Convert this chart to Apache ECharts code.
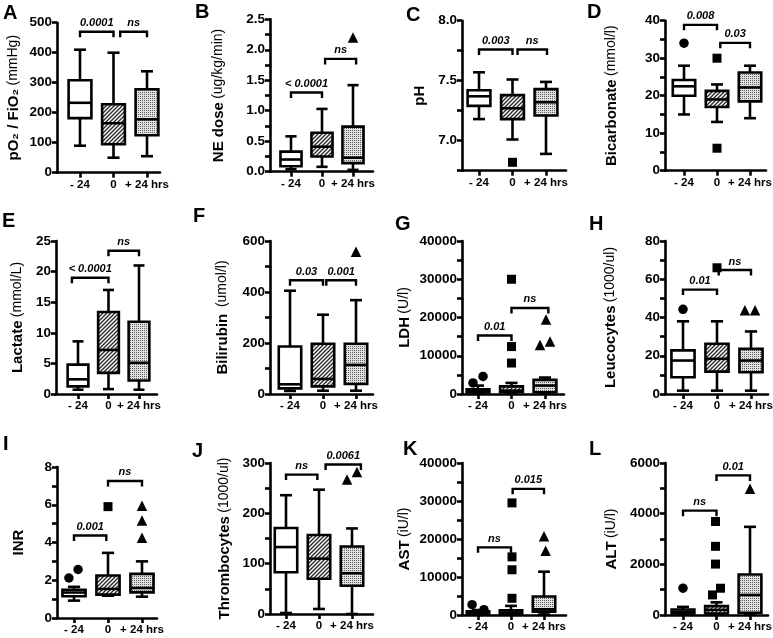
<!DOCTYPE html>
<html><head><meta charset="utf-8">
<script src="https://cdn.jsdelivr.net/npm/echarts@6/dist/echarts.min.js"></script>
<style>html,body{margin:0;padding:0;background:#fff}#c{width:773px;height:638px}</style>
</head><body><div id="c"></div>
<script>
// ---------- DATA ----------
const categories = ['- 24', '0', '+ 24 hrs'];
// each box: [min, q1, median, q3, max] for -24, 0, +24 hrs
// outliers: [category position, value]; significance: [from, to, level, label]
const A_box = [[90,182,233,308,410],[50,95,165,228,400],[55,125,178,278,338]];
const A_out = [];
const A_sig = [[0,1,470,'0.0001'],[1.2,2,470,'ns']];

const B_box = [[0.04,0.09,0.20,0.33,0.58],[0.08,0.25,0.41,0.64,1.03],[0.03,0.14,0.23,0.74,1.42]];
const B_out = [[2,2.2]];
const B_sig = [[0,1,1.3,'< 0.0001'],[1.1,2.1,1.85,'ns']];

const C_box = [[7.18,7.29,7.37,7.42,7.57],[7.01,7.18,7.27,7.38,7.51],[6.89,7.21,7.32,7.43,7.49]];
const C_out = [[1,6.82]];
const C_sig = [[0,1,7.76,'0.003'],[1.15,2.03,7.76,'ns']];

const D_box = [[15,20,22.5,24.2,28],[13,17,19,21.3,23],[14,18.5,22.2,26.2,28]];
const D_out = [[0,34],[1,30],[1,6]];
const D_sig = [[0,1,38.9,'0.008'],[1.1,2,34.1,'0.03']];

const E_box = [[0.7,1.25,2.4,4.8,8.6],[0.8,3.45,7.2,13.4,17],[0.7,2.2,5.1,11.8,21]];
const E_out = [];
const E_sig = [[-0.2,1,19,'< 0.0001'],[1,2,23.4,'ns']];

const F_box = [[12,22,38,186,405],[13,30,59,197,311],[13,39,114,197,368]];
const F_out = [[2,558]];
const F_sig = [[0,1,446,'0.03'],[1.1,2,446,'0.001']];

const G_box = [[150,400,700,1200,2200],[100,440,870,2000,2900],[150,440,2200,3700,4300]];
const G_out = [[-0.15,2900],[0.15,4600],[1,30000],[1,12400],[1,8100],[2.03,19500],[1.85,12800],[2.15,13700]];
const G_sig = [[0,1,15300,'0.01'],[1,2.1,22500,'ns']];

const H_box = [[1.75,8.75,17.5,22.8,38],[1.75,11.7,18.4,26.3,38],[1.75,11.4,17.5,23.6,32.7]];
const H_out = [[0,44.3],[1,66],[1.82,43.8],[2.12,43.8]];
const H_sig = [[0,1,54.6,'0.01'],[1.05,2,64.8,'ns']];

const I_box = [[0.92,1.15,1.35,1.5,1.65],[1.18,1.24,1.54,2.25,3.45],[1.13,1.36,1.59,2.34,3.0]];
const I_out = [[-0.15,2.12],[0.12,2.57],[1,5.9],[2,5.95],[2,5.17],[2,4.25]];
const I_sig = [[0,0.95,4.37,'0.001'],[1,2,7.26,'ns']];

const J_box = [[2,83,133,171,236],[10,70,110,157,247],[0,56,81,134,170]];
const J_out = [[1.85,267],[2.15,282]];
const J_sig = [[0,0.95,277,'ns'],[1.2,2.27,297,'0.0061']];

const K_box = [[100,300,600,1000,1300],[100,350,600,1230,2400],[150,880,1500,4850,11400]];
const K_out = [[-0.18,2730],[0.18,1400],[1.03,29500],[1.03,15300],[1.03,11900],[1.03,4400],[2,20700],[2.05,16900]];
const K_sig = [[0,1,17800,'ns'],[1.05,2,33200,'0.015']];

const L_box = [[25,65,130,220,320],[20,60,200,350,500],[25,90,790,1600,3480]];
const L_out = [[0,1057],[0.97,3690],[0.97,2710],[0.97,2010],[1.12,1057],[0.88,793],[2,4980]];
const L_sig = [[0,1,4120,'ns'],[1,2,5510,'0.01']];

// axis settings (ranges / tick labels)
const axisRanges = {
  A:[0,500,100], B:[0,2.5,0.5], C:[6.75,8.0,0.25], D:[0,40,10], E:[0,25,5], F:[0,600,200],
  G:[0,40000,10000], H:[0,80,20], I:[0,8,2], J:[0,300,100], K:[0,40000,10000], L:[0,6000,2000]
};
const titles = {
  A:'{b|pO₂ / FiO₂} {n|(mmHg)}', B:'{b|NE dose} {n|(ug/kg/min)}', C:'{b|pH}',
  D:'{b|Bicarbonate} {n|(mmol/l)}', E:'{b|Lactate} {n|(mmol/L)}', F:'{b|Bilirubin}  {n|(umol/l)}',
  G:'{b|LDH} {n|(U/l)}', H:'{b|Leucocytes} {n|(1000/ul)}', I:'{b|INR}',
  J:'{b|Thrombocytes} {n|(1000/ul)}', K:'{b|AST} {n|(iU/l)}', L:'{b|ALT} {n|(iU/l)}'
};

// ---------- LAYOUT (pixels) ----------
const layout = {
  A:{L:57,R:160,c0:80,c2:147,T:22.7,B:172.7,gap:36,minor:false,letter:[3,3]},
  B:{L:270,R:373,c0:291,c2:353,T:19.3,B:171.7,gap:44,minor:true,letter:[195,2]},
  C:{L:462,R:566,c0:479,c2:546,T:20.7,B:170.7,gap:35,minor:false,letter:[406,5]},
  D:{L:665,R:766,c0:684,c2:750,T:20.7,B:170.7,gap:46,minor:true,letter:[587,2]},
  E:{L:56,R:157,c0:78,c2:139,T:241,B:394,gap:31,minor:false,letter:[2,211]},
  F:{L:270,R:373,c0:290,c2:356,T:241,B:394,gap:40,minor:true,letter:[193,206]},
  G:{L:462,R:564,c0:478,c2:545,T:241,B:394,gap:50,minor:true,letter:[395,214]},
  H:{L:665,R:768,c0:683,c2:751,T:241,B:394,gap:47,minor:true,letter:[589,214]},
  I:{L:57,R:157,c0:74,c2:142,T:467,B:618,gap:31,minor:true,letter:[3,434]},
  J:{L:270,R:373,c0:286,c2:352,T:463,B:614,gap:38,minor:true,letter:[192,441]},
  K:{L:462,R:566,c0:478,c2:544,T:463,B:615,gap:50,minor:true,letter:[403,439]},
  L:{L:665,R:768,c0:683,c2:750,T:463,B:615,gap:46,minor:true,letter:[589,439]}
};
const FONT = 'Arial, "Liberation Sans", Helvetica, sans-serif';
const LW = 2.6, BOX_W = 0.68, CAP_W = 0.36;

function makeHatch(){
  const c=document.createElement('canvas'); c.width=4; c.height=4;
  const g=c.getContext('2d'); g.fillStyle='#fff'; g.fillRect(0,0,4,4);
  g.strokeStyle='#2a2a2a'; g.lineWidth=1.4; g.beginPath();
  g.moveTo(-1,5); g.lineTo(5,-1); g.moveTo(-1,1); g.lineTo(1,-1); g.moveTo(3,5); g.lineTo(5,3);
  g.stroke(); return c;
}
function makeDots(){
  const c=document.createElement('canvas'); c.width=2; c.height=2;
  const g=c.getContext('2d'); g.fillStyle='#e0e0e0'; g.fillRect(0,0,2,2);
  g.fillStyle='#5e5e5e'; g.fillRect(0,0,1,1); return c;
}
const fills = ['#ffffff', {image: makeHatch(), repeat:'repeat'}, {image: makeDots(), repeat:'repeat'}];

function boxRender(params, api){
  const x = api.value(0);
  const yv = [1,2,3,4,5].map(i => api.coord([x, api.value(i)])[1]);
  const cx = api.coord([x, 0])[0];
  const hw = (api.coord([x + BOX_W/2, 0])[0] - api.coord([x - BOX_W/2, 0])[0]) / 2;
  const cw = (api.coord([x + CAP_W/2, 0])[0] - api.coord([x - CAP_W/2, 0])[0]) / 2;
  const ls = {stroke:'#000', lineWidth:LW, fill:null};
  return {type:'group', children:[
    {type:'line', shape:{x1:cx,y1:yv[4],x2:cx,y2:yv[0]}, style:ls},
    {type:'line', shape:{x1:cx-cw,y1:yv[4],x2:cx+cw,y2:yv[4]}, style:ls},
    {type:'line', shape:{x1:cx-cw,y1:yv[0],x2:cx+cw,y2:yv[0]}, style:ls},
    {type:'rect', shape:{x:cx-hw,y:yv[3],width:2*hw,height:yv[1]-yv[3]}, style:{fill:fills[Math.round(x)], stroke:'#000', lineWidth:LW}},
    {type:'line', shape:{x1:cx-hw,y1:yv[2],x2:cx+hw,y2:yv[2]}, style:ls}
  ]};
}
function sigRender(sig){
  return function(params, api){
    const s = sig[params.dataIndex];
    const p1 = api.coord([s[0], s[2]]), p2 = api.coord([s[1], s[2]]);
    return {type:'group', children:[
      {type:'polyline', shape:{points:[[p1[0],p1[1]+5.5],[p1[0],p1[1]],[p2[0],p1[1]],[p2[0],p1[1]+5.5]]},
        style:{stroke:'#000', lineWidth:2.4, fill:null}},
      {type:'text', style:{text:s[3], x:(p1[0]+p2[0])/2, y:p1[1]-3,
        align:'center', verticalAlign:'bottom', textAlign:'center', textVerticalAlign:'bottom',
        font:'italic bold 11px ' + FONT, fill:'#000'}}
    ]};
  };
}

const panels = {
  A:[A_box,A_out,A_sig], B:[B_box,B_out,B_sig], C:[C_box,C_out,C_sig], D:[D_box,D_out,D_sig],
  E:[E_box,E_out,E_sig], F:[F_box,F_out,F_sig], G:[G_box,G_out,G_sig], H:[H_box,H_out,H_sig],
  I:[I_box,I_out,I_sig], J:[J_box,J_out,J_sig], K:[K_box,K_out,K_sig], L:[L_box,L_out,L_sig]
};

const grid=[], xAxis=[], yAxis=[], series=[], graphic=[];
Object.keys(panels).forEach((key, idx) => {
  const [box, out, sig] = panels[key];
  const lay = layout[key];
  const [ymin, ymax, step] = axisRanges[key];
  const s = (lay.c2 - lay.c0) / 2;
  grid.push({left:lay.L, top:lay.T, width:lay.R-lay.L, height:lay.B-lay.T, containLabel:false, outerBoundsMode:'none'});
  xAxis.push({
    type:'value', gridIndex:idx, min:(lay.L-lay.c0)/s, max:(lay.R-lay.c0)/s,
    axisLine:{show:true, onZero:false, lineStyle:{color:'#000', width:LW}},
    axisTick:{show:true, customValues:[0,1,2], length:5, lineStyle:{color:'#000', width:LW}},
    axisLabel:{show:true, customValues:[0,1,2], formatter:v => categories[Math.round(v)], margin:6,
      color:'#000', fontWeight:'bold', fontSize:11.5, fontFamily:FONT},
    splitLine:{show:false}
  });
  yAxis.push({
    type:'value', gridIndex:idx, min:ymin, max:ymax, interval:step,
    name:titles[key], nameLocation:'middle', nameRotate:90, nameGap:lay.gap,
    nameTextStyle:{color:'#000', rich:{
      b:{fontWeight:'bold', fontSize:15, fontFamily:FONT, color:'#000'},
      n:{fontWeight:'normal', fontSize:14, fontFamily:FONT, color:'#000'}}},
    axisLine:{show:true, onZero:false, lineStyle:{color:'#000', width:LW}},
    axisTick:{show:true, length:5, lineStyle:{color:'#000', width:LW}},
    minorTick:{show:lay.minor, splitNumber:2, length:5, lineStyle:{color:'#000', width:LW}},
    axisLabel:{margin:5, color:'#000', fontWeight:'bold', fontSize:13.5, fontFamily:FONT,
      formatter: v => {
        if (key === 'C') return Math.abs(v*2 - Math.round(v*2)) < 1e-6 ? v.toFixed(1) : '';
        if (key === 'B') return v.toFixed(1);
        return String(Math.round(v));
      }},
    splitLine:{show:false}
  });
  series.push({
    type:'custom', xAxisIndex:idx, yAxisIndex:idx, renderItem:boxRender,
    encode:{x:0, y:[1,2,3,4,5]}, data: box.map((b, i) => [i].concat(b)), z:3
  });
  series.push({
    type:'scatter', xAxisIndex:idx, yAxisIndex:idx, data: out.map(o => [o[0], o[1]]),
    symbol: v => ['circle','rect','triangle'][Math.round(v[0])],
    symbolSize: v => [9.5,9,10.5][Math.round(v[0])],
    itemStyle:{color:'#000', opacity:1}, emphasis:{disabled:true}, z:4
  });
  series.push({
    type:'custom', xAxisIndex:idx, yAxisIndex:idx, renderItem:sigRender(sig),
    encode:{x:[0,2], y:1}, data: sig.map(g => [g[0], g[2], g[1]]), z:5
  });
  graphic.push({type:'text', left:lay.letter[0], top:lay.letter[1],
    style:{text:key, font:'bold 20px ' + FONT, fill:'#000'}});
});

const chart = echarts.init(document.getElementById('c'), null, {renderer:'canvas'});
chart.setOption({animation:false, backgroundColor:'#fff', grid, xAxis, yAxis, series, graphic});
</script></body></html>
